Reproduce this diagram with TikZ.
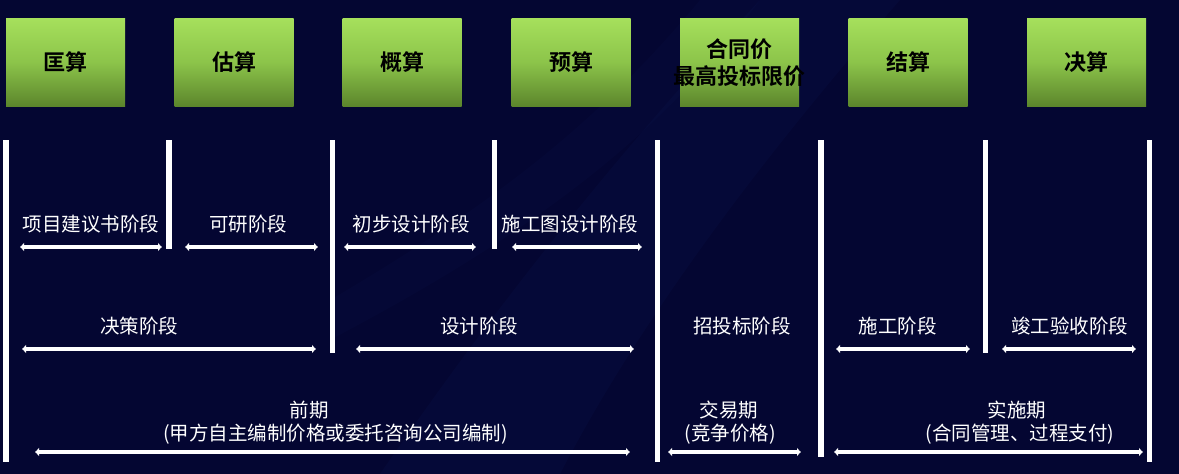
\documentclass[tikz,border=0pt]{standalone}
\usepackage{fontspec}
\newfontfamily\cjk{Noto Sans CJK SC}
\newfontfamily\cjkb{Noto Sans CJK SC Bold}
\usetikzlibrary{arrows.meta}
\definecolor{bgnavy}{RGB}{4,6,50}
\definecolor{bandblue}{RGB}{20,40,110}
\definecolor{gtop}{RGB}{166,224,92}
\definecolor{gmid}{RGB}{140,196,74}
\definecolor{gbot}{RGB}{92,134,44}
\tikzset{
  stagebox/.style={rectangle, minimum width=119pt, minimum height=88pt, inner sep=0pt,
    top color=gtop, bottom color=gbot, middle color=gmid, draw=none},
  boxlabel/.style={font=\cjkb\fontsize{22}{27}\selectfont, text=black, align=center, inner sep=0pt},
  phase/.style={font=\cjk\fontsize{19.5}{24}\selectfont, text=white, inner sep=0pt, align=center},
  divider/.style={draw=white, line width=5.5pt},
  span/.style={draw=white, line width=3.6pt, {Latex[length=4pt,width=9pt]}-{Latex[length=4pt,width=9pt]}},
}
\begin{document}
\begin{tikzpicture}[x=1pt,y=-1pt]
\useasboundingbox (0,0) rectangle (1179,474);
\fill[bgnavy] (0,0) rectangle (1179,474);
% faint background bands
\fill[bandblue, opacity=0.10] (380,474) .. controls (500,300) and (620,150) .. (760,0) -- (900,0) .. controls (760,160) and (640,320) .. (560,474) -- cycle;
\fill[bandblue, opacity=0.07] (330,300) .. controls (500,200) and (600,120) .. (700,0) -- (760,0) .. controls (660,140) and (520,240) .. (330,340) -- cycle;

% boxes
\node[stagebox] (b1) at (65.5,62) {};
\node[stagebox] (b2) at (234,62) {};
\node[stagebox] (b3) at (402,62) {};
\node[stagebox] (b4) at (571,62) {};
\node[stagebox] (b5) at (739.5,62) {};
\node[stagebox] (b6) at (908,62) {};
\node[stagebox] (b7) at (1086.5,62) {};
\node[boxlabel] (l1) at (b1) {匡算};
\node[boxlabel] (l2) at (b2) {估算};
\node[boxlabel] (l3) at (b3) {概算};
\node[boxlabel] (l4) at (b4) {预算};
\node[boxlabel] (l5) at (739.5,62.5) {合同价\\最高投标限价};
\node[boxlabel] (l6) at (b6) {结算};
\node[boxlabel] (l7) at (b7) {决算};

% dividers
\coordinate (d1t) at (6,140);     \coordinate (d1b) at (6,462);
\coordinate (d2t) at (169,140);   \coordinate (d2b) at (169,249);
\coordinate (d3t) at (332.5,140); \coordinate (d3b) at (332.5,353);
\coordinate (d4t) at (494.5,140); \coordinate (d4b) at (494.5,249);
\coordinate (d5t) at (657.5,140); \coordinate (d5b) at (657.5,462);
\coordinate (d6t) at (821,140);   \coordinate (d6b) at (821,457);
\coordinate (d7t) at (985.5,140); \coordinate (d7b) at (985.5,353);
\coordinate (d8t) at (1149.5,140);\coordinate (d8b) at (1149.5,462);
\foreach \i in {1,...,8} { \draw[divider] (d\i t) -- (d\i b); }

% row 1 spans
\coordinate (r1a) at (20,247);  \coordinate (r1b) at (162,247);
\coordinate (r1c) at (185,247); \coordinate (r1d) at (318,247);
\coordinate (r1e) at (344,247); \coordinate (r1f) at (476,247);
\coordinate (r1g) at (512,247); \coordinate (r1h) at (642,247);
\draw[span] (r1a) -- (r1b);
\draw[span] (r1c) -- (r1d);
\draw[span] (r1e) -- (r1f);
\draw[span] (r1g) -- (r1h);
\node[phase] (p1) at (91,224) {项目建议书阶段};
\node[phase] (p2) at (248,224) {可研阶段};
\node[phase] (p3) at (411,224) {初步设计阶段};
\node[phase] (p4) at (570,224) {施工图设计阶段};

% row 2 spans
\coordinate (r2a) at (22,349);   \coordinate (r2b) at (316,349);
\coordinate (r2c) at (356,349);  \coordinate (r2d) at (634,349);
\coordinate (r2e) at (836,349);  \coordinate (r2f) at (970,349);
\coordinate (r2g) at (1002,349); \coordinate (r2h) at (1136,349);
\draw[span] (r2a) -- (r2b);
\draw[span] (r2c) -- (r2d);
\draw[span] (r2e) -- (r2f);
\draw[span] (r2g) -- (r2h);
\node[phase] (q1) at (139,326) {决策阶段};
\node[phase] (q2) at (479,326) {设计阶段};
\node[phase] (q3) at (742,326) {招投标阶段};
\node[phase] (q4) at (897.5,326) {施工阶段};
\node[phase] (q5) at (1069.5,326) {竣工验收阶段};

% row 3 spans
\coordinate (r3a) at (35,452);  \coordinate (r3b) at (630,452);
\coordinate (r3c) at (668,452); \coordinate (r3d) at (801,452);
\coordinate (r3e) at (834,452); \coordinate (r3f) at (1143,452);
\draw[span] (r3a) -- (r3b);
\draw[span] (r3c) -- (r3d);
\draw[span] (r3e) -- (r3f);
\node[phase] (s1) at (309,410) {前期};
\node[phase] (s1b) at (335.5,434) {(甲方自主编制价格或委托咨询公司编制)};
\node[phase] (s2) at (729,410) {交易期};
\node[phase] (s2b) at (730,434) {(竞争价格)};
\node[phase] (s3) at (1017,410) {实施期};
\node[phase] (s3b) at (1020,434) {(合同管理、过程支付)};
\end{tikzpicture}
\end{document}
